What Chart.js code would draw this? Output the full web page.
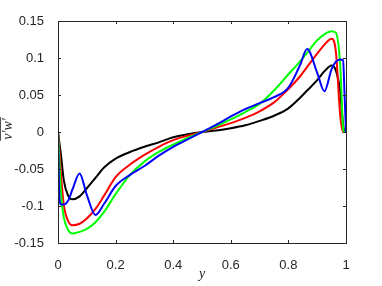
<!DOCTYPE html>
<html>
<head>
<meta charset="utf-8">
<script src="https://cdn.jsdelivr.net/npm/chart.js@4/dist/chart.umd.min.js"></script>
<style>
  html, body { margin: 0; padding: 0; background: #fff; }
  #chart { display: block; }
</style>
</head>
<body>
<canvas id="chart" width="382" height="286"></canvas>
<script>
// sample positions across the channel (y)
const yPos = [0, 0.005, 0.01, 0.02, 0.035, 0.05, 0.075, 0.1, 0.13, 0.16, 0.2, 0.25, 0.3, 0.35, 0.4, 0.45, 0.5,
  0.55, 0.6, 0.65, 0.7, 0.75, 0.8, 0.84, 0.865, 0.9, 0.925, 0.95, 0.965, 0.98, 0.99, 0.995, 1];

// v'w' for each case
const blackVals = [0, -0.015, -0.03, -0.065, -0.086, -0.091, -0.087, -0.076, -0.062, -0.048, -0.036, -0.027, -0.02, -0.014, -0.007, -0.003, 0,
  0.002, 0.005, 0.009, 0.015, 0.022, 0.032, 0.046, 0.056, 0.07, 0.082, 0.09, 0.083, 0.054, 0.01, 0, 0];
const redVals = [0, -0.025, -0.055, -0.098, -0.12, -0.126, -0.124, -0.117, -0.104, -0.086, -0.061, -0.044, -0.031, -0.02, -0.011, -0.005, 0,
  0.006, 0.012, 0.019, 0.028, 0.04, 0.058, 0.075, 0.088, 0.106, 0.118, 0.126, 0.108, 0.022, 0, 0, 0];
const greenVals = [0, -0.04, -0.08, -0.115, -0.132, -0.137, -0.135, -0.131, -0.122, -0.108, -0.084, -0.058, -0.04, -0.027, -0.017, -0.008, 0,
  0.008, 0.017, 0.027, 0.038, 0.056, 0.078, 0.095, 0.107, 0.124, 0.132, 0.136, 0.134, 0.09, 0.005, 0, 0];
const blueVals = [0, -0.09, -0.098, -0.098, -0.093, -0.078, -0.056, -0.085, -0.112, -0.097, -0.073, -0.058, -0.046, -0.032, -0.02, -0.01, 0,
  0.01, 0.021, 0.031, 0.039, 0.047, 0.06, 0.09, 0.112, 0.08, 0.055, 0.085, 0.095, 0.098, 0.097, 0.05, 0];

const xTicks = [0, 0.2, 0.4, 0.6, 0.8, 1];
const yTicks = [-0.15, -0.1, -0.05, 0, 0.05, 0.1, 0.15];

const AXIS = '#262626';
const TICK_FONT = { family: '"Liberation Sans", Arial, sans-serif', size: 13 };

function pts(vals) { return yPos.map((x, i) => ({ x, y: vals[i] })); }
function line(vals, color) {
  return { data: pts(vals), borderColor: color, borderWidth: 2, pointRadius: 0, fill: false, cubicInterpolationMode: 'monotone' };
}

// box + inward ticks + overlined y label, MATLAB style
const frame = {
  id: 'frame',
  afterDraw(chart) {
    const { ctx, chartArea: a, scales: { x, y } } = chart;
    ctx.save();
    ctx.strokeStyle = AXIS;
    ctx.lineWidth = 1;
    ctx.strokeRect(Math.round(a.left) + 0.5, Math.round(a.top) + 0.5, Math.round(a.right - a.left), Math.round(a.bottom - a.top));
    ctx.beginPath();
    xTicks.forEach(v => {
      const px = Math.round(x.getPixelForValue(v)) + 0.5;
      ctx.moveTo(px, a.bottom); ctx.lineTo(px, a.bottom - 3);
      ctx.moveTo(px, a.top); ctx.lineTo(px, a.top + 3);
    });
    yTicks.forEach(v => {
      const py = Math.round(y.getPixelForValue(v)) + 0.5;
      ctx.moveTo(a.left, py); ctx.lineTo(a.left + 3, py);
      ctx.moveTo(a.right, py); ctx.lineTo(a.right - 3, py);
    });
    ctx.stroke();

    // y label: overline v'w'
    ctx.translate(12, 129);
    ctx.rotate(-Math.PI / 2);
    ctx.font = 'italic 14px "Liberation Serif", "DejaVu Serif", serif';
    ctx.fillStyle = AXIS;
    ctx.textAlign = 'center';
    ctx.textBaseline = 'alphabetic';
    const label = 'v\u2032w\u2032';
    ctx.fillText(label, 0, 0);
    const w = ctx.measureText(label).width;
    ctx.lineWidth = 0.8;
    ctx.beginPath();
    ctx.moveTo(-w / 2 - 1, -11.5); ctx.lineTo(w / 2 + 1, -11.5);
    ctx.stroke();
    ctx.restore();
  }
};

new Chart(document.getElementById('chart'), {
  type: 'line',
  data: {
    datasets: [
      line(blueVals, '#0000ff'),
      line(greenVals, '#00ff00'),
      line(redVals, '#ff0000'),
      line(blackVals, '#000000')
    ]
  },
  options: {
    responsive: false,
    animation: false,
    devicePixelRatio: 1,
    layout: { padding: { left: 0, right: 36, top: 21, bottom: 0 } },
    plugins: { legend: { display: false }, tooltip: { enabled: false } },
    scales: {
      x: {
        type: 'linear', min: 0, max: 1,
        grid: { display: false }, border: { display: false },
        afterBuildTicks: s => { s.ticks = xTicks.map(value => ({ value })); },
        afterFit: s => { s.height = 43; },
        ticks: { color: AXIS, font: TICK_FONT, padding: 7, maxRotation: 0, callback: v => String(+v.toFixed(2)) },
        title: { display: true, text: 'y', color: AXIS, padding: { top: 0, bottom: 3 },
          font: { family: '"Liberation Serif", "DejaVu Serif", serif', style: 'italic', size: 14 } }
      },
      y: {
        type: 'linear', min: -0.15, max: 0.15,
        grid: { display: false }, border: { display: false },
        afterBuildTicks: s => { s.ticks = yTicks.map(value => ({ value })); },
        afterFit: s => { s.width = 58; },
        ticks: { color: AXIS, font: TICK_FONT, padding: 6, callback: v => String(+v.toFixed(2)) }
      }
    }
  },
  plugins: [frame]
});
</script>
</body>
</html>
